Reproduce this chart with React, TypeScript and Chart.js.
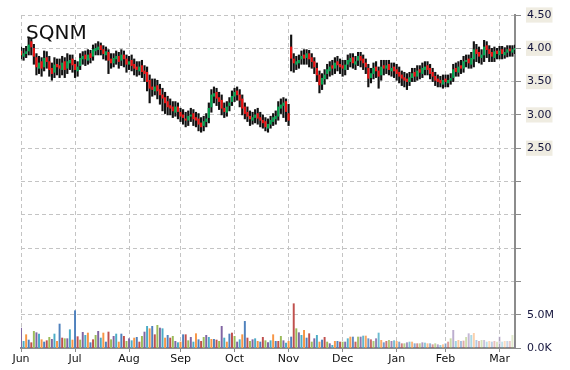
import React, { useEffect, useRef } from 'react';
import { Chart, registerables } from 'chart.js';

Chart.register(...registerables);

const title = 'SQNM';
const months = ['Jun', 'Jul', 'Aug', 'Sep', 'Oct', 'Nov', 'Dec', 'Jan', 'Feb', 'Mar'];
const monthDays = [21, 21, 20, 21, 21, 21, 21, 19, 21, 7];

const opens = [
  3.96, 3.88, 3.92, 3.96, 4.10, 4.00, 3.86, 3.70, 3.80, 3.72, 3.86, 3.80, 3.70, 3.64, 3.76, 3.74, 3.68, 3.80, 3.70, 3.78, 3.84,
  3.76, 3.66, 3.74, 3.84, 3.90, 3.82, 3.92, 3.88, 3.96, 3.98, 4.04, 3.98, 3.90, 3.94, 3.84, 3.78, 3.84, 3.88, 3.82, 3.90, 3.84,
  3.76, 3.82, 3.76, 3.72, 3.66, 3.74, 3.66, 3.64, 3.52, 3.42, 3.36, 3.44, 3.38, 3.30, 3.26, 3.20, 3.14, 3.12, 3.04, 3.12,
  3.04, 3.00, 2.94, 2.92, 2.98, 3.02, 2.96, 2.94, 2.88, 2.84, 2.90, 2.96, 3.12, 3.28, 3.34, 3.26, 3.22, 3.10, 3.04, 3.14, 3.20,
  3.28, 3.36, 3.30, 3.24, 3.12, 3.04, 2.98, 2.92, 2.96, 3.02, 2.96, 2.92, 2.90, 2.80, 2.86, 2.90, 2.94, 2.98, 3.10, 3.14, 3.20,
  3.02, 4.02, 3.84, 3.76, 3.78, 3.84, 3.90, 3.86, 3.92, 3.86, 3.80, 3.70, 3.60, 3.46, 3.54, 3.62, 3.66, 3.74, 3.70, 3.80, 3.76,
  3.74, 3.68, 3.76, 3.80, 3.86, 3.76, 3.82, 3.88, 3.84, 3.78, 3.70, 3.56, 3.62, 3.72, 3.66, 3.60, 3.74, 3.70, 3.76, 3.66, 3.72,
  3.68, 3.64, 3.60, 3.56, 3.54, 3.50, 3.56, 3.64, 3.58, 3.68, 3.62, 3.68, 3.74, 3.70, 3.64, 3.58, 3.54, 3.52, 3.46,
  3.54, 3.48, 3.52, 3.56, 3.70, 3.64, 3.74, 3.70, 3.80, 3.84, 3.76, 3.84, 3.98, 3.94, 3.86, 3.90, 4.04, 3.98, 3.94, 3.86, 3.96,
  3.90, 3.98, 3.90, 3.94, 3.99, 3.94, 3.98,
];

const closes = [
  3.90, 3.92, 3.95, 4.05, 4.02, 3.88, 3.72, 3.78, 3.70, 3.85, 3.80, 3.68, 3.62, 3.75, 3.72, 3.70, 3.78, 3.68, 3.80, 3.82, 3.75,
  3.68, 3.72, 3.85, 3.88, 3.84, 3.90, 3.86, 3.98, 4.00, 4.02, 3.98, 3.92, 3.95, 3.82, 3.78, 3.85, 3.88, 3.80, 3.90, 3.84, 3.76,
  3.80, 3.74, 3.70, 3.68, 3.72, 3.65, 3.62, 3.50, 3.40, 3.38, 3.42, 3.36, 3.30, 3.25, 3.18, 3.12, 3.10, 3.06, 3.12, 3.05,
  2.98, 2.96, 2.92, 2.98, 3.00, 2.94, 2.92, 2.86, 2.82, 2.90, 2.94, 3.10, 3.30, 3.32, 3.25, 3.20, 3.10, 3.05, 3.12, 3.18, 3.28,
  3.34, 3.30, 3.22, 3.10, 3.02, 2.98, 2.94, 2.96, 3.00, 2.95, 2.92, 2.88, 2.82, 2.86, 2.92, 2.96, 2.98, 3.12, 3.15, 3.18, 3.05,
  2.92, 3.85, 3.78, 3.80, 3.82, 3.88, 3.85, 3.92, 3.84, 3.80, 3.72, 3.60, 3.45, 3.55, 3.60, 3.68, 3.72, 3.70, 3.78, 3.75, 3.72,
  3.70, 3.75, 3.82, 3.85, 3.78, 3.80, 3.88, 3.82, 3.78, 3.72, 3.55, 3.62, 3.70, 3.66, 3.58, 3.72, 3.70, 3.74, 3.68, 3.70, 3.66,
  3.62, 3.58, 3.55, 3.52, 3.50, 3.56, 3.62, 3.58, 3.66, 3.64, 3.70, 3.72, 3.68, 3.62, 3.58, 3.52, 3.50, 3.48, 3.52,
  3.50, 3.52, 3.55, 3.68, 3.65, 3.72, 3.70, 3.80, 3.82, 3.78, 3.85, 3.98, 3.92, 3.88, 3.90, 4.02, 3.98, 3.92, 3.88, 3.95, 3.92,
  3.96, 3.92, 3.94, 3.98, 3.96, 3.98, 4.00,
];

const highs = [
  4.02, 4.00, 4.03, 4.17, 4.14, 4.06, 3.92, 3.88, 3.86, 3.96, 3.95, 3.88, 3.78, 3.86, 3.84, 3.84, 3.88, 3.86, 3.92, 3.90, 3.90,
  3.82, 3.80, 3.92, 3.95, 3.96, 3.98, 3.97, 4.05, 4.07, 4.10, 4.08, 4.04, 4.02, 3.98, 3.92, 3.92, 3.96, 3.94, 3.98, 3.96, 3.90,
  3.88, 3.90, 3.84, 3.80, 3.80, 3.82, 3.74, 3.72, 3.60, 3.54, 3.54, 3.52, 3.46, 3.40, 3.34, 3.28, 3.24, 3.20, 3.20, 3.18,
  3.10, 3.08, 3.04, 3.06, 3.10, 3.08, 3.04, 3.02, 2.96, 2.98, 3.02, 3.18, 3.38, 3.42, 3.40, 3.34, 3.30, 3.18, 3.20, 3.26, 3.36,
  3.40, 3.42, 3.38, 3.30, 3.18, 3.12, 3.06, 3.04, 3.08, 3.10, 3.04, 3.00, 2.96, 2.94, 2.98, 3.02, 3.06, 3.20, 3.24, 3.26, 3.24,
  3.16, 4.20, 3.92, 3.88, 3.90, 3.96, 3.98, 3.98, 3.97, 3.92, 3.86, 3.78, 3.66, 3.62, 3.68, 3.76, 3.80, 3.82, 3.86, 3.88, 3.84,
  3.82, 3.82, 3.90, 3.92, 3.92, 3.88, 3.94, 3.94, 3.90, 3.84, 3.76, 3.70, 3.78, 3.80, 3.72, 3.82, 3.82, 3.82, 3.82, 3.78, 3.78,
  3.76, 3.72, 3.66, 3.64, 3.62, 3.64, 3.70, 3.70, 3.74, 3.74, 3.78, 3.80, 3.80, 3.76, 3.70, 3.64, 3.60, 3.58, 3.60,
  3.60, 3.60, 3.62, 3.76, 3.78, 3.80, 3.82, 3.88, 3.90, 3.90, 3.94, 4.10, 4.06, 4.02, 3.98, 4.12, 4.10, 4.04, 4.00, 4.02, 4.00,
  4.03, 4.03, 4.01, 4.04, 4.04, 4.04, 4.05,
];

const lows = [
  3.84, 3.82, 3.86, 3.90, 3.90, 3.76, 3.60, 3.62, 3.58, 3.66, 3.70, 3.58, 3.52, 3.56, 3.60, 3.56, 3.60, 3.56, 3.62, 3.68, 3.64,
  3.56, 3.58, 3.68, 3.76, 3.74, 3.76, 3.78, 3.82, 3.90, 3.90, 3.90, 3.84, 3.82, 3.62, 3.70, 3.72, 3.76, 3.70, 3.74, 3.72, 3.64,
  3.68, 3.66, 3.60, 3.58, 3.60, 3.56, 3.50, 3.36, 3.18, 3.28, 3.30, 3.24, 3.16, 3.06, 3.02, 3.00, 3.00, 2.96, 2.98, 2.94,
  2.90, 2.86, 2.82, 2.84, 2.90, 2.84, 2.82, 2.76, 2.74, 2.76, 2.82, 2.88, 3.04, 3.18, 3.14, 3.08, 3.00, 2.96, 2.98, 3.06, 3.14,
  3.20, 3.22, 3.12, 3.00, 2.94, 2.90, 2.84, 2.86, 2.88, 2.86, 2.82, 2.80, 2.76, 2.74, 2.80, 2.84, 2.86, 2.92, 3.02, 2.96, 2.90,
  2.84, 3.66, 3.64, 3.68, 3.70, 3.76, 3.76, 3.76, 3.72, 3.70, 3.62, 3.50, 3.33, 3.38, 3.46, 3.54, 3.58, 3.60, 3.62, 3.66, 3.62,
  3.58, 3.60, 3.68, 3.72, 3.70, 3.68, 3.74, 3.72, 3.68, 3.62, 3.42, 3.48, 3.54, 3.56, 3.40, 3.52, 3.60, 3.62, 3.60, 3.58, 3.56,
  3.52, 3.48, 3.44, 3.42, 3.38, 3.44, 3.50, 3.50, 3.52, 3.54, 3.56, 3.60, 3.60, 3.54, 3.50, 3.44, 3.42, 3.42, 3.40,
  3.42, 3.42, 3.46, 3.50, 3.58, 3.58, 3.62, 3.64, 3.72, 3.70, 3.70, 3.72, 3.80, 3.78, 3.76, 3.80, 3.86, 3.80, 3.80, 3.80, 3.84,
  3.84, 3.84, 3.85, 3.87, 3.88, 3.88, 3.92,
];

// volume in millions
const volumes = [
  3.0, 1.0, 2.0, 1.2, 0.8, 2.5, 2.3, 2.1, 1.25, 0.9, 1.1, 1.6, 1.3, 2.1, 1.0, 3.6, 1.5, 1.4, 1.4, 2.75, 1.2,
  5.6, 1.7, 1.2, 2.35, 1.9, 2.25, 0.8, 1.25, 1.9, 2.5, 1.5, 2.25, 0.9, 2.4, 1.25, 1.75, 2.1, 0.9, 2.1, 1.75, 1.0,
  1.4, 1.1, 1.5, 1.6, 0.9, 1.75, 2.4, 3.25, 2.9, 3.25, 2.0, 3.4, 3.0, 2.9, 1.5, 1.9, 1.5, 1.75, 1.0, 0.8,
  0.9, 2.0, 2.0, 1.1, 1.6, 0.9, 2.15, 1.25, 1.0, 1.6, 1.9, 1.6, 1.3, 1.3, 1.2, 1.0, 3.25, 1.5, 0.9, 2.1, 2.25,
  1.75, 0.9, 1.25, 2.0, 4.0, 1.5, 1.0, 1.25, 1.4, 1.0, 0.9, 1.6, 1.1, 0.8, 1.1, 2.0, 1.0, 1.0, 1.75, 1.1, 0.75,
  1.0, 1.65, 6.65, 2.9, 2.3, 1.9, 2.65, 1.5, 2.15, 0.9, 1.4, 1.9, 0.9, 1.2, 1.6, 0.9, 0.65, 0.4, 1.0, 1.0, 0.9,
  0.9, 0.9, 1.4, 1.65, 1.65, 0.9, 1.65, 1.65, 1.8, 1.8, 1.4, 1.25, 1.0, 1.4, 2.25, 1.15, 0.8, 1.0, 1.15, 1.0, 1.1,
  1.0, 0.9, 0.65, 0.65, 0.8, 0.9, 0.9, 0.65, 0.65, 0.65, 0.8, 0.75, 0.65, 0.65, 0.5, 0.65, 0.5, 0.4, 0.5,
  0.65, 0.9, 1.4, 2.65, 1.0, 1.15, 1.0, 1.05, 1.6, 2.15, 1.9, 2.2, 1.15, 1.0, 1.15, 1.15, 0.9, 1.0, 0.9, 1.0, 0.9,
  1.65, 0.9, 1.0, 1.0, 1.0, 1.9, 0.9,
];

const volumePalette = ['#c0504d', '#9bbb59', '#8064a2', '#4bacc6', '#f79646', '#4f81bd'];

function rgba(hex: string, a: number) {
  const n = parseInt(hex.slice(1), 16);
  return `rgba(${(n >> 16) & 255},${(n >> 8) & 255},${n & 255},${a})`;
}

export default function App() {
  const ref = useRef<HTMLCanvasElement>(null);

  useEffect(() => {
    const labels: string[] = [];
    const monthLabel: Record<number, string> = {};
    months.forEach((m, mi) => {
      monthLabel[labels.length] = m;
      for (let d = 1; d <= monthDays[mi]; d++) labels.push(`${m} ${d}`);
    });
    const n = labels.length;

    const bodyColors = opens.map((o, i) => (closes[i] >= o ? '#00a650' : '#ee1111'));
    const volColors = volumes.map((_, i) => {
      const a = i < 120 ? 1 : Math.max(0.3, 1 - ((i - 120) / (n - 120)) * 0.72);
      return rgba(volumePalette[(i + 2) % volumePalette.length], a);
    });

    const titlePlugin = {
      id: 'stockTitle',
      afterDatasetsDraw(chart: any) {
        const ctx = chart.ctx;
        ctx.save();
        ctx.font = '20px "DejaVu Sans"';
        ctx.fillStyle = '#111';
        ctx.textBaseline = 'alphabetic';
        ctx.textAlign = 'left';
        ctx.fillText(title, 26, 39);
        ctx.restore();
      },
    };

    const chart = new Chart(ref.current!, {
      type: 'bar',
      data: {
        labels,
        datasets: [
          {
            label: 'body',
            data: opens.map((o, i) => [o, closes[i]]) as any,
            backgroundColor: bodyColors,
            barThickness: 1.5,
            grouped: false,
            order: 0,
            yAxisID: 'y',
          } as any,
          {
            label: 'wick',
            data: lows.map((l, i) => [l, highs[i]]) as any,
            backgroundColor: '#111111',
            barThickness: 1.5,
            grouped: false,
            order: 1,
            yAxisID: 'y',
          } as any,
          {
            label: 'volume',
            data: volumes,
            backgroundColor: volColors,
            barThickness: 1.3,
            grouped: false,
            order: 2,
            yAxisID: 'yv',
          } as any,
        ],
      },
      options: {
        animation: false,
        responsive: true,
        maintainAspectRatio: false,
        events: [],
        layout: { padding: { left: 21, top: 15, right: 0, bottom: 0 } },
        plugins: {
          legend: { display: false },
          tooltip: { enabled: false },
          title: { display: false },
        },
        scales: {
          x: {
            type: 'category',
            offset: false,
            grid: {
              offset: false,
              color: (c: any) => (monthLabel[c.index] ? '#c4c4c4' : 'rgba(0,0,0,0)'),
              tickColor: (c: any) => (monthLabel[c.index] ? '#8c8c8c' : 'rgba(0,0,0,0)'),
              tickLength: 4,
              lineWidth: 1,
            },
            border: { color: '#8c8c8c', width: 2, dash: [4, 3] },
            ticks: {
              autoSkip: false,
              maxRotation: 0,
              minRotation: 0,
              padding: 1,
              color: '#111',
              font: { family: 'DejaVu Sans', size: 11 },
              callback: (_v: any, i: number) => monthLabel[i] || '',
            },
            afterFit: (s: any) => {
              s.height = 22;
            },
          } as any,
          y: {
            position: 'right',
            min: -0.5,
            max: 4.5,
            grid: { color: '#c4c4c4', tickColor: '#8c8c8c', tickLength: 6, lineWidth: 1 },
            border: { color: '#8c8c8c', width: 2, dash: [4, 3] },
            ticks: {
              stepSize: 0.5,
              padding: 6,
              color: '#14143c',
              font: { family: 'DejaVu Sans', size: 11 },
              showLabelBackdrop: true,
              backdropPadding: { top: 1, bottom: 1, left: 1, right: 1 },
              backdropColor: (c: any) => (c.tick && c.tick.value >= 2.5 ? '#efece1' : 'rgba(0,0,0,0)'),
              callback: (v: any) => {
                const val = Number(v);
                if (val >= 2.5) return val.toFixed(2);
                if (Math.abs(val) < 1e-9) return '5.0M';
                if (Math.abs(val + 0.5) < 1e-9) return '0.0K';
                return '';
              },
            },
            afterFit: (s: any) => {
              s.width = 55;
            },
          } as any,
          yv: {
            display: false,
            min: 0,
            max: 50,
          },
        },
      },
      plugins: [titlePlugin],
    });
    return () => chart.destroy();
  }, []);

  return (
    <div style={{ position: 'fixed', left: 0, top: 0, width: 570, height: 370, background: '#fff' }}>
      <canvas ref={ref} />
    </div>
  );
}
